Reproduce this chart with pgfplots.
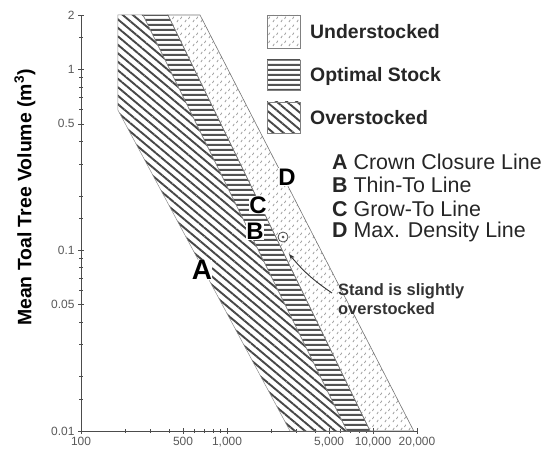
\documentclass[border=0pt]{standalone}
\usepackage{fontspec}
\setmainfont{Liberation Sans}
\usepackage{pgfplots}
\pgfplotsset{compat=1.18}
\usetikzlibrary{patterns.meta,arrows.meta}

\tikzdeclarepattern{
  name=dashbits,
  type=uncolored,
  bounding box={(0bp,0bp) and (8bp,8bp)},
  tile size={(8bp,8bp)},
  code={
    \draw[line width=0.8bp] (1bp,1bp) -- (2.5bp,3.5bp);
    \draw[line width=0.8bp] (5bp,4.5bp) -- (6.5bp,7bp);
  }
}
\tikzdeclarepattern{
  name=hstripes,
  type=uncolored,
  bounding box={(0bp,0bp) and (60bp,4.6bp)},
  tile size={(60bp,4.6bp)},
  code={
    \fill (-1bp,1.2bp) rectangle (61bp,3.4bp);
  }
}

\tikzset{
  over/.style={pattern={Lines[angle=-40,distance=6.5bp,line width=1.9bp]}, pattern color=black!72},
  optim/.style={pattern=hstripes, pattern color=black!68},
  under/.style={pattern=dashbits, pattern color=black!40},
}

\begin{document}
\begin{tikzpicture}
\begin{axis}[
  scale only axis, width=336bp, height=416bp,
  xmode=log, ymode=log,
  xmin=100, xmax=20000, ymin=0.01, ymax=2,
  axis x line=bottom, axis y line=left,
  axis line style={-, black!70, line width=0.6pt},
  xtick={100,1000,10000}, xticklabels={100,{1,000},{10,000}},
  extra x ticks={500,5000,20000}, extra x tick labels={500,{5,000},{20,000}},
  ytick={0.01,0.1,1}, yticklabels={0.01,0.1,1},
  extra y ticks={0.05,0.5,2}, extra y tick labels={0.05,0.5,2},
  minor xtick={200,300,400,600,700,800,900,2000,3000,4000,6000,7000,8000,9000},
  minor ytick={0.015,0.02,0.03,0.04,0.06,0.07,0.08,0.09,0.15,0.2,0.3,0.4,0.6,0.7,0.8,0.9,1.5},
  tick label style={font=\fontsize{12}{13}\selectfont, text=black!65},
  tick align=center, major tick length=6bp, minor tick length=4bp,
  tick style={black!70, line width=0.5pt},
  ylabel={Mean Toal Tree Volume (m$^{\mathbf{3}}$)},
  ylabel style={font=\bfseries\fontsize{19.5}{20}\selectfont, at={(axis description cs:-0.1667,0.561)}, anchor=center},
]
% overstocked band (line A to line B)
\addplot[over, draw=black!45, line width=0.5pt] coordinates {(179,2) (266,2) (6635,0.01) (2700,0.01) (179,0.596)} -- cycle;
% optimal stock band (line B to line C)
\addplot[optim, draw=black!45, line width=0.5pt] coordinates {(266,2) (394,2) (9540,0.01) (6635,0.01)} -- cycle;
% understocked band (line C to line D)
\addplot[under, draw=black!55, line width=0.6pt] coordinates {(394,2) (653,2) (19000,0.01) (9540,0.01)} -- cycle;
% the stand
\addplot[only marks, mark=*, mark size=5bp, mark options={fill=white, draw=black!70, line width=0.8pt}] coordinates {(2418,0.1183)};
\addplot[only marks, mark=*, mark size=1.2bp, mark options={fill=black!70, draw=black!70}] coordinates {(2418,0.1183)};
\end{axis}

% line letters
\node[font=\bfseries\fontsize{28}{28}\selectfont, fill=white, inner sep=0.3bp] at (121bp,161bp) {A};
\node[font=\bfseries\fontsize{24}{24}\selectfont, fill=white, inner sep=0.3bp] at (174bp,200bp) {B};
\node[font=\bfseries\fontsize{24}{24}\selectfont, fill=white, inner sep=0.3bp] at (177bp,226bp) {C};
\node[font=\bfseries\fontsize{24}{24}\selectfont, fill=white, inner sep=0.3bp] at (206bp,254bp) {D};

% legend boxes
\draw[under, draw=black!50] (186bp,383bp) rectangle (219bp,416bp);
\draw[optim, draw=black!50] (186bp,341bp) rectangle (219bp,371bp);
\draw[over, draw=black!50] (186bp,298bp) rectangle (219bp,329bp);
\begin{scope}[every node/.style={anchor=west, font=\bfseries\fontsize{19.5}{20}\selectfont, text=black!85, inner sep=0pt}]
\node at (229bp,399bp) {Understocked};
\node at (229bp,355bp) {Optimal Stock};
\node at (229bp,313bp) {Overstocked};
\end{scope}

\begin{scope}[every node/.style={anchor=west, font=\fontsize{21.5}{22}\selectfont, text=black!85, inner sep=0pt}]
\node at (251bp,269bp) {\textbf{A} Crown Closure Line};
\node at (251bp,246bp) {\textbf{B} Thin-To Line};
\node at (251bp,222bp) {\textbf{C} Grow-To Line};
\node at (251bp,199bp) {\textbf{D} Max. Density Line};
\end{scope}

% annotation
\draw[-{Stealth[length=6bp]}, line width=0.9pt, black!80] (251bp,138bp) to[bend left=8] (208bp,177bp);
\begin{scope}[every node/.style={anchor=west, font=\bfseries\fontsize{16.5}{18}\selectfont, text=black!80, inner sep=0pt}]
\node at (257bp,140bp) {Stand is slightly};
\node at (257bp,122bp) {overstocked};
\end{scope}

\pgfresetboundingbox
\path (-81bp,-24bp) rectangle (466bp,431bp);
\end{tikzpicture}
\end{document}
